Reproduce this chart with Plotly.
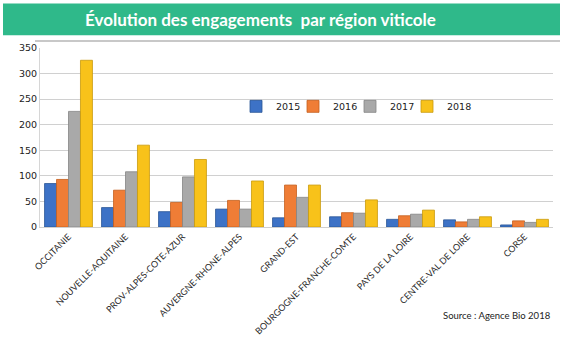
import plotly.graph_objects as go

regions = ["OCCITANIE", "NOUVELLE-AQUITAINE", "PROV-ALPES-COTE-AZUR", "AUVERGNE-RHONE-ALPES",
           "GRAND-EST", "BOURGOGNE-FRANCHE-COMTE", "PAYS DE LA LOIRE", "CENTRE-VAL DE LOIRE", "CORSE"]
v2015 = [85, 38, 30, 35, 18, 20, 15, 14, 4]
v2016 = [93, 72, 48, 52, 82, 28, 22, 10, 12]
v2017 = [226, 108, 98, 35, 58, 27, 25, 15, 9]
v2018 = [326, 160, 132, 90, 82, 53, 33, 20, 15]
years = ["2015", "2016", "2017", "2018"]
colors = ["#3d72c6", "#ef7d36", "#a9a9a9", "#f8c21a"]
edge = ["#2a5596", "#c45f1e", "#858585", "#c99a0c"]

fig = go.Figure()
for name, vals, c, e in zip(years, [v2015, v2016, v2017, v2018], colors, edge):
    fig.add_trace(go.Bar(x=regions, y=vals, name=name, marker=dict(color=c, line=dict(color=e, width=0.8))))
# invisible spacer entry so the last legend label is not clipped
fig.add_trace(go.Scatter(x=[None], y=[None], mode="markers", name=" ",
                         marker=dict(color="rgba(0,0,0,0)"), hoverinfo="skip"))

fig.update_layout(
    width=563, height=347,
    margin=dict(l=40, r=10, t=48, b=118),
    paper_bgcolor="white", plot_bgcolor="white",
    barmode="group", bargap=0.16, bargroupgap=0.0,
    font=dict(family="Liberation Sans, Arial", color="#333333"),
    showlegend=True,
    legend=dict(orientation="h", x=(236-40)/513, y=(229-107)/181, xanchor="left", yanchor="middle",
                font=dict(size=9.5, color="#222222", family="DejaVu Sans"),
                bgcolor="rgba(0,0,0,0)", entrywidth=12, itemwidth=30),
    yaxis=dict(range=[0, 350], dtick=50, showgrid=True, gridcolor="#d0d0d0", gridwidth=1,
               tickfont=dict(size=9.5, color="#222222", family="DejaVu Sans"),
               showline=True, linecolor="#d6d6d6", ticks="", zeroline=False),
    xaxis=dict(tickangle=-45, tickfont=dict(size=9, color="#2a2a2a", family="Lato"),
               showline=True, linecolor="#cfcfcf", ticks=""),
)

fig.add_shape(type="line", xref="paper", yref="paper", x0=-5/513, x1=(560-40)/513,
              y0=(229-41)/181, y1=(229-41)/181, line=dict(color="#c8c8c8", width=2))
fig.add_shape(type="rect", xref="paper", yref="paper",
              x0=-37/513, x1=(560-40)/513, y0=(229-35)/181, y1=(229-3)/181,
              fillcolor="#2fb98a", line=dict(width=0), layer="above")
fig.add_annotation(text="<b>Évolution des engagements  par région viticole</b>", xref="paper", yref="paper",
                   x=(260-40)/513, y=(229-19)/181, showarrow=False,
                   font=dict(size=17, color="white", family="Lato"), xanchor="center", yanchor="middle")
fig.add_annotation(text="Source : Agence Bio 2018", xref="paper", yref="paper",
                   x=(553-40)/513, y=(229-318)/181, showarrow=False,
                   font=dict(size=9.5, color="#222222", family="Lato"), xanchor="right", yanchor="middle")

fig.write_html("out.html")
